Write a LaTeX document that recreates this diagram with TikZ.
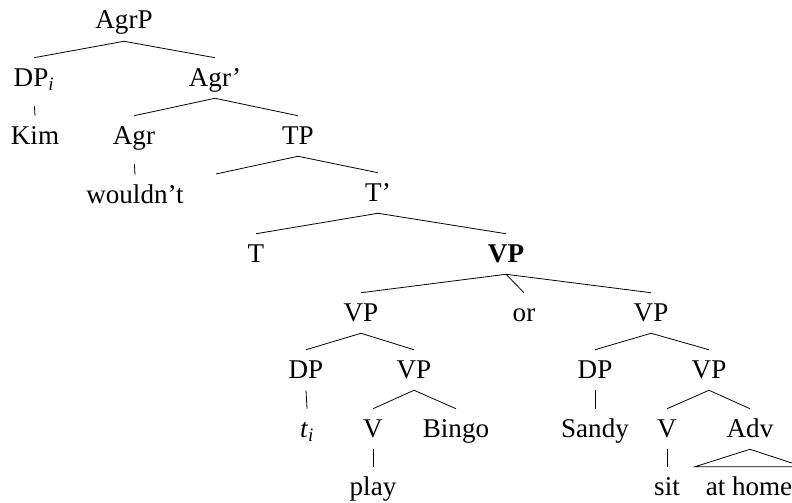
\documentclass[tikz,border=0pt]{standalone}
\usepackage{fontspec}
\setmainfont{Liberation Serif}

\begin{document}
\begin{tikzpicture}[x=0.75pt,y=0.75pt,yscale=-1,xscale=1,
  cat/.style={anchor=base,font=\fontsize{20.3}{24}\selectfont,text height=12pt,text depth=0pt,inner xsep=0pt,inner ysep=9pt},
  branch/.style={line width=0.6pt},
  unary/.style={branch,shorten <=6pt}]
\useasboundingbox (0,0) rectangle (792,503);

% Text Node
\node [cat] (agrp) at (124,29) {AgrP};
% Text Node
\node [cat] (dpi) at (34,86) {DP\textsubscript{\textit{i}}};
% Text Node
\node [cat] (agrbar) at (215,86) {Agr'};
% Text Node
\node [cat] (kim) at (35,144) {Kim};
% Text Node
\node [cat] (agr) at (134,144) {Agr};
% Text Node
\node [cat] (tp) at (298,144) {TP};
% Text Node
\node [cat] (wouldnt) at (135,203) {wouldn't};
% Text Node
\node [cat] (tbar) at (378,201) {T'};
\coordinate (tspec) at (216,174);
% Text Node
\node [cat] (t) at (256,262) {T};
% Text Node
\node [cat] (vptop) at (506,262) {\textbf{VP}};
% Text Node
\node [cat] (vpa) at (361,321) {VP};
% Text Node
\node [cat] (or) at (524,321) {or};
% Text Node
\node [cat] (vpb) at (651,321) {VP};
% Text Node
\node [cat] (dpa) at (306,378) {DP};
% Text Node
\node [cat] (vpc) at (414,378) {VP};
% Text Node
\node [cat] (dpb) at (595,378) {DP};
% Text Node
\node [cat] (vpd) at (709,378) {VP};
% Text Node
\node [cat] (trace) at (307,437) {\textit{t}\textsubscript{\textit{i}}};
% Text Node
\node [cat] (va) at (373,437) {V};
% Text Node
\node [cat] (bingo) at (456,437) {Bingo};
% Text Node
\node [cat] (sandy) at (595,437) {Sandy};
% Text Node
\node [cat] (vb) at (667,437) {V};
% Text Node
\node [cat] (adv) at (750,437) {Adv};
% Text Node
\node [cat] (play) at (373,495) {play};
% Text Node
\node [cat] (sit) at (667,495) {sit};
% Text Node
\node [cat] (athome) at (749,495) {at home};

% Branches
\draw [branch] (dpi.north) -- (agrp.south) -- (agrbar.north);
\draw [unary] (dpi.south) -- (kim.north);
\draw [branch] (agr.north) -- (agrbar.south) -- (tp.north);
\draw [unary] (agr.south) -- (wouldnt.north);
\draw [branch] (tspec) -- (tp.south) -- (tbar.north);
\draw [branch] (t.north) -- (tbar.south) -- (vptop.north);
\draw [branch] (vpa.north) -- (vptop.south) -- (vpb.north);
\draw [branch] (vptop.south) -- (or.north);
\draw [branch] (dpa.north) -- (vpa.south) -- (vpc.north);
\draw [branch] (dpa.south) -- (trace.north);
\draw [branch] (va.north) -- (vpc.south) -- (bingo.north);
\draw [branch] (va.south) -- (play.north);
\draw [branch] (dpb.north) -- (vpb.south) -- (vpd.north);
\draw [branch] (dpb.south) -- (sandy.north);
\draw [branch] (vb.north) -- (vpd.south) -- (adv.north);
\draw [branch] (vb.south) -- (sit.north);
% Triangle
\draw [branch] ([xshift=-8pt]athome.north west) -- (adv.south) -- ([xshift=8pt]athome.north east) -- cycle;

\end{tikzpicture}
\end{document}
